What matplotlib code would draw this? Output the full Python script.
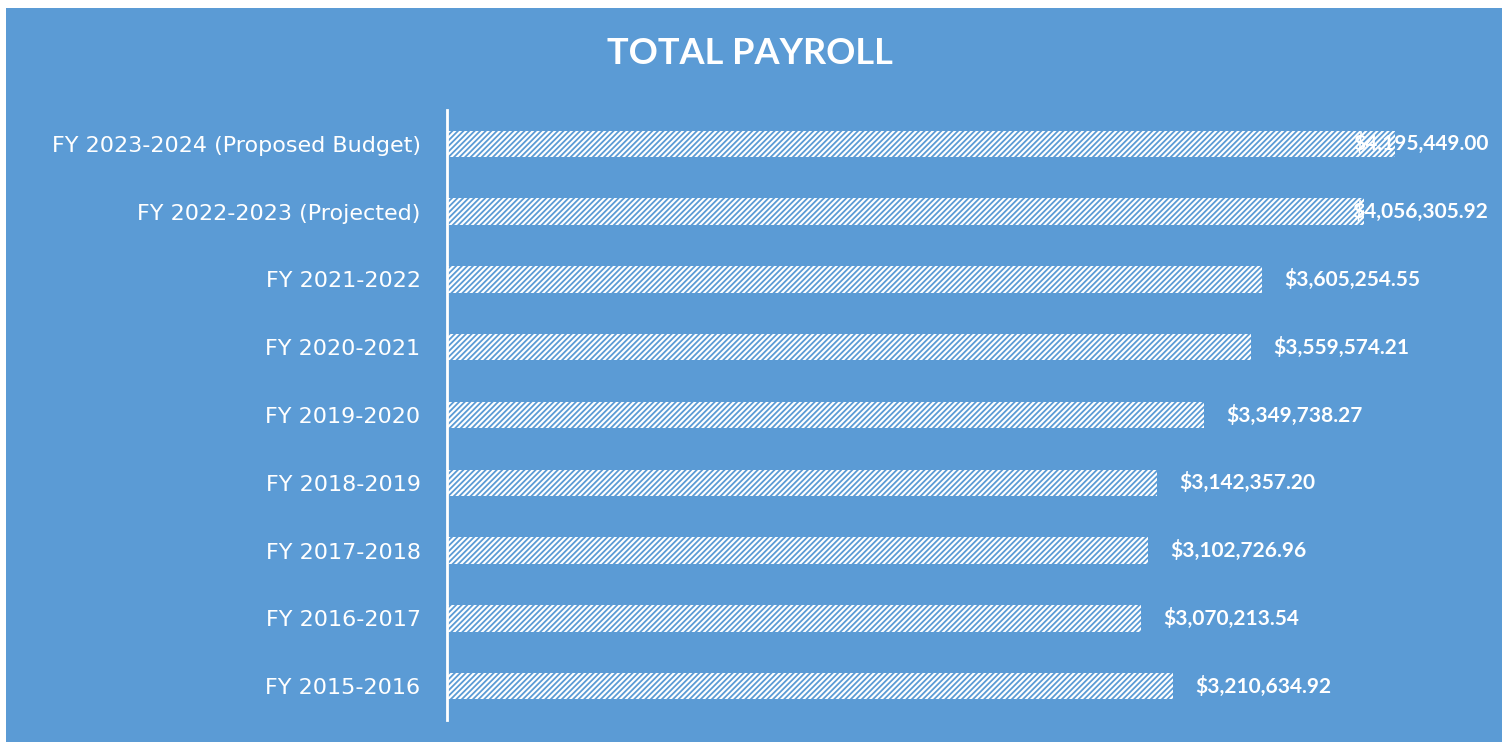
import matplotlib.pyplot as plt
from matplotlib.patches import Rectangle

categories = ['FY 2015-2016', 'FY 2016-2017', 'FY 2017-2018', 'FY 2018-2019',
              'FY 2019-2020', 'FY 2020-2021', 'FY 2021-2022',
              'FY 2022-2023 (Projected)', 'FY 2023-2024 (Proposed Budget)']
payroll = [3210634.92, 3070213.54, 3102726.96, 3142357.20, 3349738.27,
           3559574.21, 3605254.55, 4056305.92, 4195449.00]

blue = '#5b9bd5'
plt.rcParams['hatch.color'] = blue
plt.rcParams['hatch.linewidth'] = 1.3

fig = plt.figure(figsize=(15.02, 7.42), dpi=100, facecolor='white')
fig.patches.append(Rectangle((6 / 1502, 0), 1, 1 - 8 / 742, transform=fig.transFigure,
                             facecolor=blue, edgecolor='none', zorder=-10))

ax = fig.add_axes([447 / 1502, 22 / 742, (1490 - 447) / 1502, 610 / 742])
ax.set_facecolor('none')
xmax = 4615000
ax.set_xlim(0, xmax)
ax.set_ylim(-0.5, len(categories) - 0.5)

ax.barh(range(len(categories)), payroll, height=0.39, color='white',
        edgecolor=blue, hatch='//////', linewidth=0)

for i, v in enumerate(payroll):
    label = '${:,.2f}'.format(v)
    if v > 3.9e6:
        ax.text(xmax * 0.9985, i, label, ha='right', va='center', color='white',
                fontsize=15, fontweight='bold', family='Lato')
    else:
        ax.annotate(label, (v, i), xytext=(16, 0), textcoords='offset points',
                    ha='left', va='center', color='white', fontsize=15,
                    fontweight='bold', family='Lato')

ax.set_yticks(range(len(categories)))
ax.set_yticklabels(categories, color='white', fontsize=16, family='DejaVu Sans')
ax.tick_params(axis='y', length=0, pad=19)
ax.set_xticks([])
for s in ['top', 'right', 'bottom']:
    ax.spines[s].set_visible(False)
ax.spines['left'].set_color('white')
ax.spines['left'].set_linewidth(2)

fig.text(750 / 1502, 1 - 54 / 742, 'TOTAL PAYROLL', ha='center', va='center',
         color='white', fontsize=26, fontweight='bold', family='Lato')

fig.savefig('out.png', dpi=100, facecolor='white')
